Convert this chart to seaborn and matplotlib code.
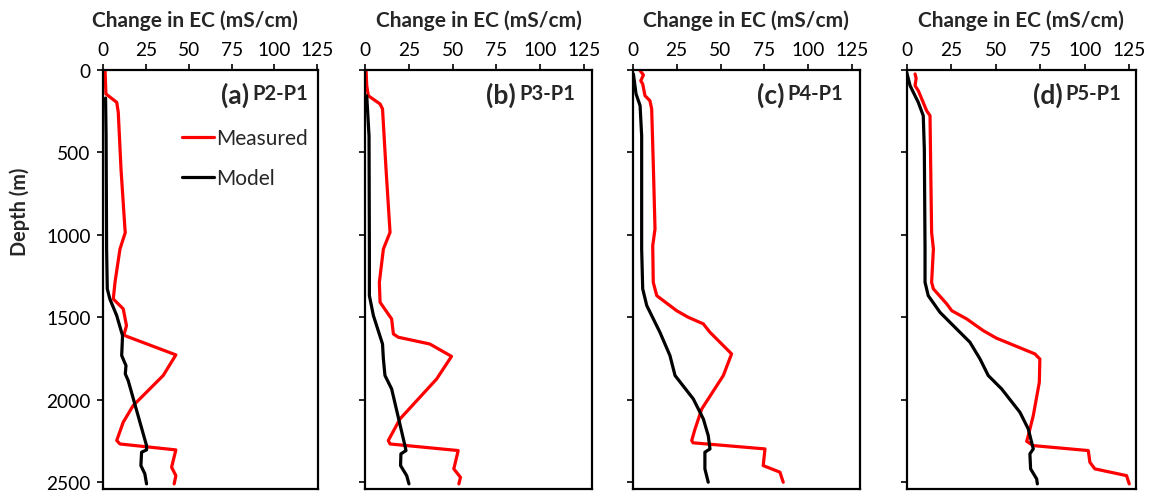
import matplotlib
matplotlib.use("Agg")
import matplotlib.pyplot as plt
import pandas as pd
import seaborn as sns

sns.set_style("ticks")
plt.rcParams["font.family"] = ["Lato", "DejaVu Sans"]

panel_letters = ["(a)", "(b)", "(c)", "(d)"]
panel_names = ["P2-P1", "P3-P1", "P4-P1", "P5-P1"]
x_ticks = [0, 25, 50, 75, 100, 125]
y_ticks = [0, 500, 1000, 1500, 2000, 2500]
x_label = "Change in EC (mS/cm)"
y_label = "Depth (m)"
series_names = ["Measured", "Model"]

# (a) P2-P1
depth_meas_a = [0, 145, 196, 256, 600, 964, 985, 1085, 1287, 1388, 1448, 1550, 1606, 1614,
                1727, 1852, 2034, 2135, 2246, 2267, 2303, 2408, 2459, 2509]
ec_meas_a = [1.2, 1.7, 8, 8.9, 10.5, 12.8, 13, 9.9, 7, 6, 11.8, 13.7, 12.2, 13.7,
             42.5, 35.1, 17.6, 11.8, 8, 9.9, 42.5, 40, 42.5, 41.5]
depth_mod_a = [170, 400, 1085, 1327, 1388, 1489, 1610, 1731, 1792, 1842, 1883, 2277, 2303,
               2317, 2398, 2448, 2509]
ec_mod_a = [1.5, 1.8, 2.1, 2.5, 4, 8, 11.4, 10.9, 13.4, 13, 14.7, 25.4, 25.4,
            22.5, 22.1, 24.4, 25.4]

# (b) P3-P1
depth_meas_b = [0, 95, 156, 206, 236, 600, 984, 1085, 1287, 1408, 1509, 1600, 1620, 1661,
                1736, 1873, 2115, 2246, 2267, 2307, 2418, 2469, 2509]
ec_meas_b = [0.6, 1, 1.9, 8.6, 10, 12, 14.3, 10.5, 8.2, 8.6, 15.2, 16.2, 19, 37,
             49.4, 40.9, 20, 13.3, 14.3, 53.2, 50.7, 54.5, 53.6]
depth_mod_b = [156, 400, 1085, 1368, 1489, 1661, 1752, 1852, 1933, 2277, 2307, 2327, 2398,
               2459, 2509]
ec_mod_b = [1, 2.3, 2.5, 2.5, 4.8, 10, 10.5, 11.4, 15.2, 22.8, 23.4, 20.5, 20.3,
            23.8, 25.1]

# (c) P4-P1
depth_meas_c = [4, 30, 65, 85, 156, 186, 236, 600, 964, 1065, 1287, 1368, 1459, 1499, 1539,
                1590, 1721, 1852, 2055, 2176, 2246, 2260, 2297, 2398, 2438, 2499]
ec_meas_c = [4.2, 6.1, 4.6, 5.7, 7, 9.8, 10.8, 11.8, 12.7, 11.4, 11.7, 13.7, 25, 31.6, 40.2,
             44, 56.3, 51.6, 39.3, 35.5, 33.6, 34.4, 75.3, 74.3, 83.8, 85.7]
depth_mod_c = [24, 145, 216, 400, 1085, 1327, 1428, 1590, 1731, 1852, 1994, 2115, 2216,
               2297, 2317, 2418, 2499]
ec_mod_c = [0.4, 1.9, 4.2, 5.1, 5.1, 5.7, 8, 15.5, 21.2, 24.1, 34.5, 40.2, 43,
            44, 41.1, 41.1, 43]

# (d) P5-P1
depth_meas_d = [24, 50, 95, 127, 247, 277, 600, 984, 1085, 1287, 1327, 1418, 1459, 1509,
                1580, 1626, 1721, 1752, 1893, 2095, 2216, 2251, 2277, 2307, 2378, 2418,
                2459, 2509]
ec_meas_d = [4.7, 5.3, 4.7, 6.6, 11.2, 13.1, 13.5, 14, 15, 14, 15, 22.5, 25.3, 33.7,
             43, 50.5, 72, 74.8, 74.5, 71.1, 68.3, 67.4, 71.1, 102, 102.9, 105.7,
             123.5, 125]
depth_mod_d = [14, 95, 196, 277, 480, 1085, 1287, 1368, 1469, 1550, 1650, 1752, 1852, 1933,
               2075, 2176, 2297, 2327, 2418, 2479, 2509]
ec_mod_d = [0, 1.9, 6.5, 9.3, 9.9, 10.3, 10.3, 12.1, 18.7, 26.2, 35.5, 41.2, 45.8, 53.3,
            63.6, 68.3, 71.1, 69.2, 69.6, 73, 73.4]

panels = [
    (depth_meas_a, ec_meas_a, depth_mod_a, ec_mod_a),
    (depth_meas_b, ec_meas_b, depth_mod_b, ec_mod_b),
    (depth_meas_c, ec_meas_c, depth_mod_c, ec_mod_c),
    (depth_meas_d, ec_meas_d, depth_mod_d, ec_mod_d),
]

W, H = 1150, 502
fig = plt.figure(figsize=(W / 100, H / 100), dpi=100)

# layout in pixels: (left, width, xmax, label right edge frac)
layout = [
    (103.0, 215.0, 125.4, 0.953),
    (365.0, 227.0, 129.6, 0.925),
    (632.7, 227.3, 129.4, 0.925),
    (906.7, 229.3, 128.8, 0.935),
]
top_px, bot_px = 71.0, 490.0
hp = bot_px - top_px

axes = []
for i, ((dm, em, dmod, emod), (lp, wp, xmax, rfrac)) in enumerate(zip(panels, layout)):
    ax = fig.add_axes([lp / W, (H - bot_px) / H, wp / W, hp / H])
    axes.append(ax)
    dfm = pd.DataFrame({"ec": em, "depth": dm})
    dfo = pd.DataFrame({"ec": emod, "depth": dmod})
    sns.lineplot(data=dfm, x="ec", y="depth", sort=False, estimator=None, orient="y",
                 color="#ff0000", lw=2.3, ax=ax, label=series_names[0] if i == 0 else None)
    sns.lineplot(data=dfo, x="ec", y="depth", sort=False, estimator=None, orient="y",
                 color="black", lw=2.3, ax=ax, label=series_names[1] if i == 0 else None)
    ax.set_xlim(0, xmax)
    ax.set_ylim(2540, 0)
    ax.set_xticks(x_ticks)
    ax.set_yticks(y_ticks)
    ax.xaxis.tick_top()
    ax.xaxis.set_label_position("top")
    ax.tick_params(axis="both", direction="out", length=4.3, width=1.2, pad=4.5,
                   labelsize=13.8, colors="black")
    if i > 0:
        ax.set_yticklabels([])
        ax.set_ylabel("")
    else:
        ax.set_ylabel(y_label, fontsize=14.3, fontweight="bold")
        ax.yaxis.set_label_coords((20 - lp) / wp, 1 - (211.7 - top_px) / hp)
        ax.yaxis.label.set_va("center")
    ax.set_xlabel(x_label, fontsize=15, fontweight="bold")
    xc = 0.5 if i > 0 else (195 - lp) / wp
    ax.xaxis.set_label_coords(xc, 1 + (top_px - 21) / hp)
    ax.xaxis.label.set_va("center")
    for s in ax.spines.values():
        s.set_visible(True)
        s.set_linewidth(1.6)
        s.set_color("black")
    ax.text(rfrac, 1 - (94.5 - top_px) / hp, panel_names[i],
            transform=ax.transAxes, ha="right", va="center", fontsize=14.5,
            fontweight="bold")
    if i == 0:
        ax.legend(loc="upper left",
                  bbox_to_anchor=((182 - lp) / wp, 1 - (129 - top_px) / hp),
                  frameon=False, fontsize=15, handlelength=1.55, handletextpad=0.1,
                  labelspacing=0.95, borderpad=0, borderaxespad=0)
    elif ax.get_legend() is not None:
        ax.get_legend().remove()

fig.canvas.draw()
renderer = fig.canvas.get_renderer()
for i, ax in enumerate(axes):
    t = [tt for tt in ax.texts if tt.get_text() == panel_names[i]][0]
    bb = t.get_window_extent(renderer)
    x0, y0 = ax.transAxes.inverted().transform((bb.x0 - 3, (bb.y0 + bb.y1) / 2 - 1))
    ax.text(x0, y0, panel_letters[i], transform=ax.transAxes, ha="right", va="center",
            fontsize=19, fontweight="bold")

fig.savefig("out.png", dpi=100)
